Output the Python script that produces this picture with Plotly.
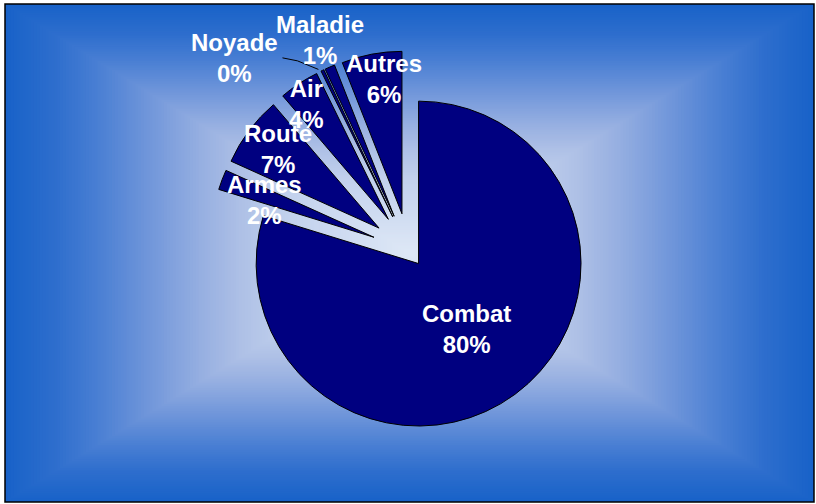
import math
import plotly.graph_objects as go

# Causes of death, in the order they run clockwise from 12 o'clock
causes = ["Combat", "Armes", "Route", "Air", "Noyade", "Maladie", "Autres"]
shares = [80, 2, 7, 4, 0.3, 1, 6]

# How far each wedge is pulled out of the pie (fraction of the radius)
pulls = [0.1, 0.23, 0.23, 0.23, 0.23, 0.23, 0.23]

# Label placement: distance from the pie centre (fraction of radius) and
# angular offset from the wedge bisector, in degrees
label_radius = [0.60, 0.94, 1.02, 1.10, 1.60, 1.41, 1.07]
label_turn = [0, -1.5, 0.7, -1.5, -16.5, 0.4, 2.5]

W, H = 816, 504
DOM_X = [0.2545, 0.7478]
DOM_Y = [0.1065, 0.8994]

NAVY = "#000080"
FONT = dict(family="Liberation Sans, Arial, sans-serif", size=24,
            color="white", weight="bold")

fig = go.Figure()

fig.add_trace(go.Pie(
    labels=causes,
    values=shares,
    sort=False,
    direction="clockwise",
    rotation=0,
    pull=pulls,
    domain=dict(x=DOM_X, y=DOM_Y),
    marker=dict(colors=[NAVY] * len(causes), line=dict(color="black", width=1)),
    textinfo="none",
    hoverinfo="none",
    showlegend=False,
))

# Pie geometry in pixels, as plotly lays it out for this domain
box_w = W * (DOM_X[1] - DOM_X[0])
box_h = H * (DOM_Y[1] - DOM_Y[0])
radius = min(box_w, box_h) / 2 / (1 + max(pulls))
cx = W * (DOM_X[0] + DOM_X[1]) / 2
cy = H * (1 - (DOM_Y[0] + DOM_Y[1]) / 2)

total = sum(shares)


def px_to_paper(x, y):
    return x / W, 1 - y / H


def unit(deg):
    a = math.radians(deg)
    return math.sin(a), -math.cos(a)


# ---- background: rectangular gradient, light centre to blue edges ----
frame = (5, 4, 814, 502)
fx0, fy0, fx1, fy1 = frame
gcx, gcy = (fx0 + fx1) / 2, (fy0 + fy1) / 2
hw, hh = (fx1 - fx0) / 2, (fy1 - fy0) / 2

stops = [
    (0.00, (222, 232, 246)),
    (0.30, (194, 209, 237)),
    (0.42, (174, 192, 230)),
    (0.52, (150, 175, 225)),
    (0.65, (112, 150, 218)),
    (0.78, (72, 126, 211)),
    (0.88, (46, 110, 205)),
    (1.00, (24, 98, 200)),
]


def ramp(t):
    for (t0, c0), (t1, c1) in zip(stops, stops[1:]):
        if t <= t1:
            f = (t - t0) / (t1 - t0)
            return "rgb({},{},{})".format(*[round(a + (b - a) * f) for a, b in zip(c0, c1)])
    return "rgb({},{},{})".format(*stops[-1][1])


shapes = [dict(type="rect", xref="paper", yref="paper", x0=0, y0=0, x1=1, y1=1,
               fillcolor="white", line=dict(width=0), layer="below")]
N = 140
for i in range(N, 0, -1):
    t = i / N
    x0, y1 = px_to_paper(gcx - t * hw, gcy - t * hh)
    x1, y0 = px_to_paper(gcx + t * hw, gcy + t * hh)
    shapes.append(dict(type="rect", xref="paper", yref="paper",
                       x0=x0, y0=y0, x1=x1, y1=y1,
                       fillcolor=ramp(t), line=dict(width=0), layer="below"))

bx0, by1 = px_to_paper(fx0, fy0)
bx1, by0 = px_to_paper(fx1, fy1)
shapes.append(dict(type="rect", xref="paper", yref="paper",
                   x0=bx0, y0=by0, x1=bx1, y1=by1,
                   line=dict(color="black", width=1.5), layer="above"))

# ---- data labels ----
annotations = []
start = 0.0
for name, v, p, lr, lt in zip(causes, shares, pulls, label_radius, label_turn):
    span = v / total * 360
    mid = start + span / 2
    ux, uy = unit(mid + lt)
    lx, ly = cx + lr * radius * ux, cy + lr * radius * uy
    ax, ay = px_to_paper(lx, ly)
    pct = round(v / total * 100)
    annotations.append(dict(x=ax, y=ay, xref="paper", yref="paper",
                            text=f"{name}<br>{pct}%", showarrow=False,
                            xanchor="center", yanchor="middle", font=FONT))
    if lt < -10:
        # leader line from the label to the tip of its thin wedge
        mx, my = unit(mid)
        tipx = cx + (1 + p) * radius * mx
        tipy = cy + (1 + p) * radius * my
        tx0, ty0 = px_to_paper(lx + 48, ly)
        kx, ky = px_to_paper(lx + 63, ly + 3)
        tx1, ty1 = px_to_paper(tipx - 4, tipy - 1)
        shapes.append(dict(type="path", xref="paper", yref="paper",
                           path=f"M {tx0},{ty0} L {kx},{ky} L {tx1},{ty1}",
                           line=dict(color="black", width=1), layer="above"))
    start += span

fig.update_layout(
    width=W, height=H,
    margin=dict(l=0, r=0, t=0, b=0),
    paper_bgcolor="white",
    plot_bgcolor="white",
    shapes=shapes,
    annotations=annotations,
)

fig.write_html("out.html")
